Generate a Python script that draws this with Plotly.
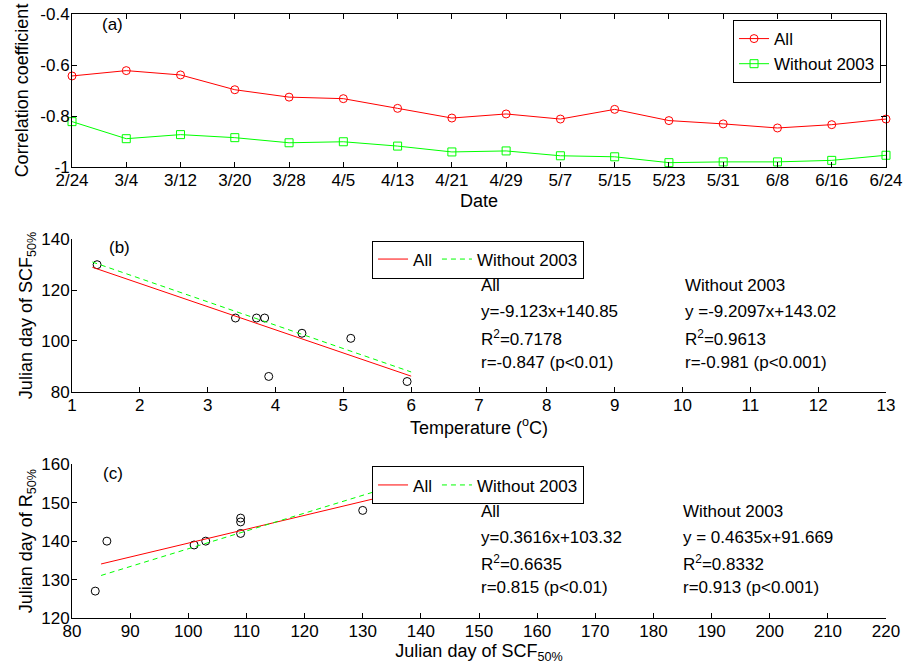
import plotly.graph_objects as go

# ---------------- data ----------------
dates = ["2/24", "3/4", "3/12", "3/20", "3/28", "4/5", "4/13", "4/21",
         "4/29", "5/7", "5/15", "5/23", "5/31", "6/8", "6/16", "6/24"]
corr_all = [-0.643, -0.622, -0.639, -0.697, -0.726, -0.732, -0.770, -0.808,
            -0.792, -0.812, -0.774, -0.818, -0.831, -0.847, -0.834, -0.812]
corr_wo2003 = [-0.822, -0.889, -0.873, -0.885, -0.905, -0.901, -0.918, -0.941,
               -0.937, -0.956, -0.960, -0.983, -0.980, -0.980, -0.974, -0.954]
corr_ticks = [-1, -0.8, -0.6, -0.4]
corr_ticktext = ["-1", "-0.8", "-0.6", "-0.4"]

temperature = [1.37, 3.41, 3.72, 3.84, 3.90, 4.39, 5.11, 5.94]
scf50 = [130, 109, 109, 109, 86, 103, 101, 84]
r50 = [148, 146, 145, 142, 140, 140, 139, 127]

# regression coefficients (slope, intercept) as printed on the chart
fit_b_all = [-9.123, 140.85]
fit_b_wo = [-9.2097, 143.02]
fit_c_all = [0.3616, 103.32]
fit_c_wo = [0.4635, 91.669]
fit_range_b = [1.3, 6.0]
fit_range_c = [85, 135]

text_b_all = ["All", "y=-9.123x+140.85", "R<sup>2</sup>=0.7178", "r=-0.847 (p<0.01)"]
text_b_wo = ["Without 2003", "y =-9.2097x+143.02", "R<sup>2</sup>=0.9613", "r=-0.981 (p<0.001)"]
text_c_all = ["All", "y=0.3616x+103.32", "R<sup>2</sup>=0.6635", "r=0.815 (p<0.01)"]
text_c_wo = ["Without 2003", "y = 0.4635x+91.669", "R<sup>2</sup>=0.8332", "r=0.913 (p<0.001)"]
text_rows_b = [121.7, 111.5, 101.2, 91.4]
text_rows_c = [147.8, 140.9, 134.4, 128.0]

FONT = "Liberation Sans, Arial, sans-serif"
FS_TICK = 17
FS_TITLE = 18
FS_TEXT = 17
FS_LEG = 17
RED = "#ff0000"
GREEN = "#00ff00"

fig = go.Figure()

# panel (a)
fig.add_trace(go.Scatter(x=dates, y=corr_all, mode="lines+markers", name="All",
                         line=dict(color=RED, width=1),
                         marker=dict(symbol="circle-open", size=8, color=RED, line=dict(width=1)),
                         xaxis="x", yaxis="y", legend="legend", cliponaxis=False))
fig.add_trace(go.Scatter(x=dates, y=corr_wo2003, mode="lines+markers", name="Without 2003",
                         line=dict(color=GREEN, width=1),
                         marker=dict(symbol="square-open", size=8, color=GREEN, line=dict(width=1)),
                         xaxis="x", yaxis="y", legend="legend", cliponaxis=False))

# panel (b)
fig.add_trace(go.Scatter(x=temperature, y=scf50, mode="markers", showlegend=False,
                         marker=dict(symbol="circle-open", size=8, color="black", line=dict(width=1)),
                         xaxis="x2", yaxis="y2", cliponaxis=False))
fig.add_trace(go.Scatter(x=fit_range_b, y=[fit_b_all[0] * v + fit_b_all[1] for v in fit_range_b],
                         mode="lines", name="All", line=dict(color=RED, width=1),
                         xaxis="x2", yaxis="y2", legend="legend2"))
fig.add_trace(go.Scatter(x=fit_range_b, y=[fit_b_wo[0] * v + fit_b_wo[1] for v in fit_range_b],
                         mode="lines", name="Without 2003", line=dict(color=GREEN, width=1, dash="5px,4px"),
                         xaxis="x2", yaxis="y2", legend="legend2"))

# panel (c)
fig.add_trace(go.Scatter(x=scf50, y=r50, mode="markers", showlegend=False,
                         marker=dict(symbol="circle-open", size=8, color="black", line=dict(width=1)),
                         xaxis="x3", yaxis="y3", cliponaxis=False))
fig.add_trace(go.Scatter(x=fit_range_c, y=[fit_c_all[0] * v + fit_c_all[1] for v in fit_range_c],
                         mode="lines", name="All", line=dict(color=RED, width=1),
                         xaxis="x3", yaxis="y3", legend="legend3"))
fig.add_trace(go.Scatter(x=fit_range_c, y=[fit_c_wo[0] * v + fit_c_wo[1] for v in fit_range_c],
                         mode="lines", name="Without 2003", line=dict(color=GREEN, width=1, dash="5px,4px"),
                         xaxis="x3", yaxis="y3", legend="legend3"))

axis_common = dict(showline=True, linecolor="black", linewidth=1, ticks="inside", ticklen=5,
                   tickcolor="black", showgrid=False, zeroline=False,
                   tickfont=dict(family=FONT, size=FS_TICK, color="black"))
xaxis_common = dict(axis_common, ticklabelstandoff=-2)
yaxis_common = dict(axis_common, ticklabelstandoff=-2)

title_font = dict(family=FONT, size=FS_TITLE, color="black")

fig.update_layout(
    width=904, height=664,
    margin=dict(l=72, r=18, t=14, b=46, autoexpand=False),
    paper_bgcolor="white", plot_bgcolor="white",
    font=dict(family=FONT, size=FS_TICK, color="black"),
    xaxis=dict(domain=[0, 1], anchor="y", type="category", range=[0, 15], dtick=1,
               mirror="ticks", title=dict(text="Date", font=title_font, standoff=5), **xaxis_common),
    yaxis=dict(domain=[0.7467, 1], anchor="x", range=[-1, -0.4], tickvals=corr_ticks,
               ticktext=corr_ticktext, mirror="ticks",
               title=dict(text="Correlation coefficient", font=title_font, standoff=6), **yaxis_common),
    xaxis2=dict(domain=[0, 1], anchor="y2", range=[1, 13], dtick=1,
                title=dict(text="Temperature (<sup>o</sup>C)", font=title_font, standoff=6), **xaxis_common),
    yaxis2=dict(domain=[0.3747, 0.627], anchor="x2", range=[80, 140], dtick=20,
                title=dict(text="Julian day of SCF<sub>50%</sub>", font=title_font, standoff=3), **yaxis_common),
    xaxis3=dict(domain=[0, 1], anchor="y3", range=[80, 220], dtick=10,
                title=dict(text="Julian day of SCF<sub>50%</sub>", font=title_font, standoff=6), **xaxis_common),
    yaxis3=dict(domain=[0, 0.2545], anchor="x3", range=[120, 160], dtick=10,
                title=dict(text="Julian day of R<sub>50%</sub>", font=title_font, standoff=3), **yaxis_common),
    legend=dict(x=0.9939, y=0.990, xanchor="right", yanchor="top", bgcolor="white",
                bordercolor="black", borderwidth=1, font=dict(family=FONT, size=FS_LEG),
                tracegroupgap=0),
    legend2=dict(x=0.3686, y=0.625, xanchor="left", yanchor="top", orientation="h",
                 bgcolor="white", bordercolor="black", borderwidth=1,
                 font=dict(family=FONT, size=FS_LEG)),
    legend3=dict(x=0.3686, y=0.251, xanchor="left", yanchor="top", orientation="h",
                 bgcolor="white", bordercolor="black", borderwidth=1,
                 font=dict(family=FONT, size=FS_LEG)),
)

annotations = []
annotations.append(dict(x=0.516, y=-0.443, xref="x", yref="y", text="(a)", showarrow=False,
                        xanchor="left", yanchor="middle", font=dict(family=FONT, size=FS_TEXT)))
annotations.append(dict(x=1.51, y=136.7, xref="x2", yref="y2", text="(b)", showarrow=False,
                        xanchor="left", yanchor="middle", font=dict(family=FONT, size=FS_TEXT)))
annotations.append(dict(x=85.05, y=157.7, xref="x3", yref="y3", text="(c)", showarrow=False,
                        xanchor="left", yanchor="middle", font=dict(family=FONT, size=FS_TEXT)))
for t, yv in zip(text_b_all, text_rows_b):
    annotations.append(dict(x=7.0, y=yv, xref="x2", yref="y2", text=t, showarrow=False,
                            xanchor="left", yanchor="middle", font=dict(family=FONT, size=FS_TEXT)))
for t, yv in zip(text_b_wo, text_rows_b):
    annotations.append(dict(x=10.0, y=yv, xref="x2", yref="y2", text=t, showarrow=False,
                            xanchor="left", yanchor="middle", font=dict(family=FONT, size=FS_TEXT)))
for t, yv in zip(text_c_all, text_rows_c):
    annotations.append(dict(x=150.0, y=yv, xref="x3", yref="y3", text=t, showarrow=False,
                            xanchor="left", yanchor="middle", font=dict(family=FONT, size=FS_TEXT)))
for t, yv in zip(text_c_wo, text_rows_c):
    annotations.append(dict(x=184.8, y=yv, xref="x3", yref="y3", text=t, showarrow=False,
                            xanchor="left", yanchor="middle", font=dict(family=FONT, size=FS_TEXT)))
fig.update_layout(annotations=annotations)

fig.write_html("out.html", config={"displayModeBar": False},
               post_script="document.body.style.margin='0';document.body.style.overflow='hidden';")
